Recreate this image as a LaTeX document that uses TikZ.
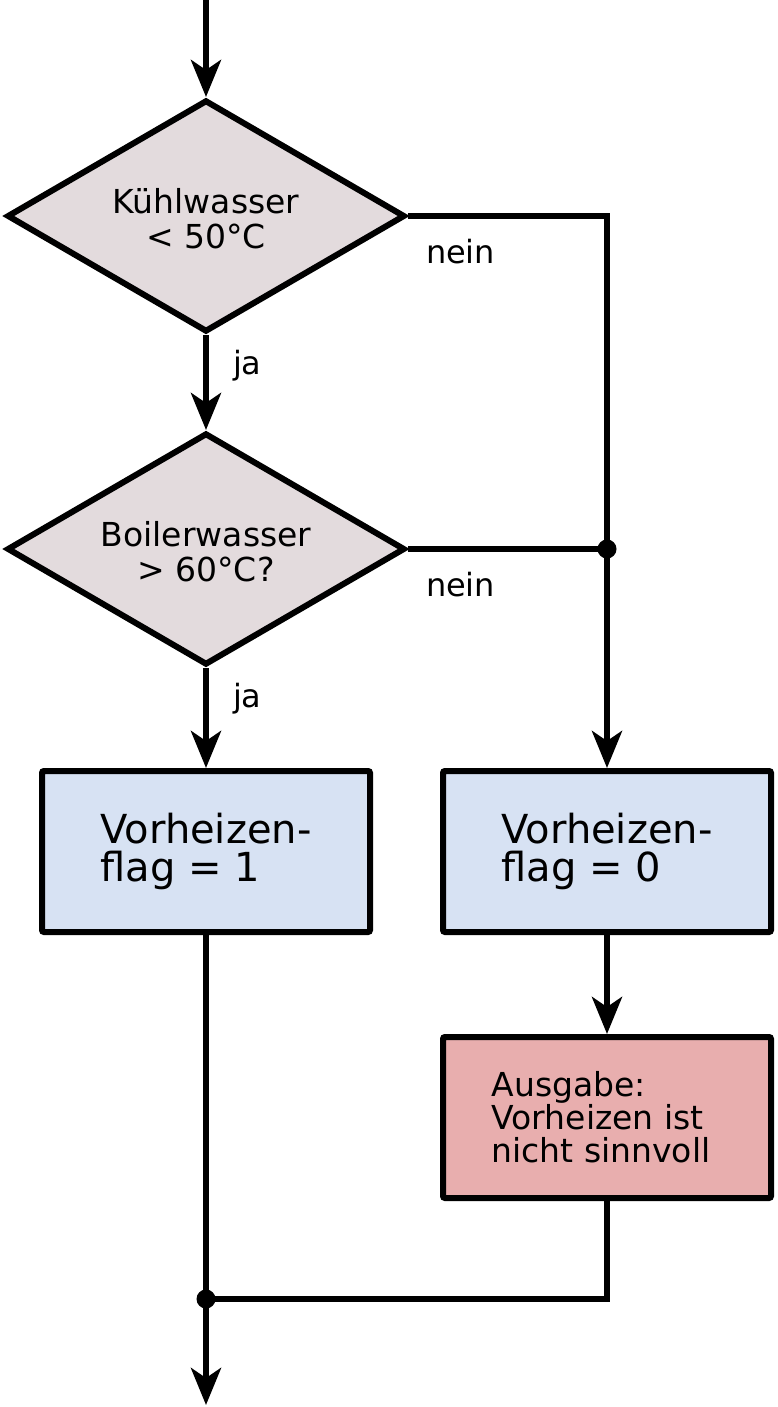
\documentclass[tikz,border=0pt]{standalone}
\usepackage{fontspec}
\setmainfont{DejaVu Sans}
\usetikzlibrary{shapes.geometric,arrows.meta}
\definecolor{decfill}{RGB}{227,219,221}
\definecolor{procfill}{RGB}{215,226,243}
\definecolor{outfill}{RGB}{232,174,174}
\begin{document}
\begin{tikzpicture}[x=1pt,y=-1pt,
  line width=6pt,
  arr/.style={-{Stealth[length=37pt,width=30pt,inset=10pt]}},
  decision/.style={diamond,draw,fill=decfill,minimum width=398pt,minimum height=232pt,inner sep=0pt,line join=miter},
  dtext/.style={align=center,inner sep=0pt,font=\fontsize{33}{35}\selectfont},
  procbox/.style={rectangle,draw,fill=procfill,minimum width=328pt,minimum height=161pt,rounded corners=2pt,align=left,font=\fontsize{40}{38}\selectfont},
  outbox/.style={rectangle,draw,fill=outfill,minimum width=328pt,minimum height=161pt,rounded corners=2pt},
  otext/.style={align=left,inner sep=0pt,font=\fontsize{33}{33}\selectfont},
  lbl/.style={anchor=base west,inner sep=0pt,font=\fontsize{32}{35}\selectfont},
  dot/.style={circle,fill,inner sep=0pt,minimum size=19pt}
]
\useasboundingbox (0,0) rectangle (778,1407);
\coordinate (start) at (206,0);
\node[decision] (d1) at (206,216) {};
\node[dtext] (t1) at (206,219) {Kühlwasser\\< 50°C};
\node[decision] (d2) at (206,549) {};
\node[dtext] (t2) at (206,552) {Boilerwasser\\> 60°C?};
\node[procbox] (b1) at (206,851.5) {Vorheizen-\\flag = 1};
\node[procbox] (b2) at (607,851.5) {Vorheizen-\\flag = 0};
\node[outbox] (b3) at (607,1117.5) {};
\node[otext] (t3) at (601,1117) {Ausgabe:\\Vorheizen ist\\nicht sinnvoll};
\coordinate (j1) at (607,549);
\coordinate (j2) at (206,1299);
\coordinate (end) at (206,1405);

\draw[arr] (start) -- (d1.north);
\draw[arr] (d1.south) -- (d2.north);
\draw[arr] (d2.south) -- (b1.north);
\draw (d1.east) -| (j1);
\draw (d2.east) -- (j1);
\draw[arr] (j1) -- (b2.north);
\draw[arr] (b2.south) -- (b3.north);
\draw[arr] (b1.south) -- (end);
\draw (b3.south) |- (j2);
\node[dot] (dot1) at (j1) {};
\node[dot] (dot2) at (j2) {};

\node[lbl] (n1) at (423,263) {nein};
\node[lbl] (n2) at (423,596) {nein};
\node[lbl] (ja1) at (230,374) {ja};
\node[lbl] (ja2) at (230,707) {ja};
\end{tikzpicture}
\end{document}
